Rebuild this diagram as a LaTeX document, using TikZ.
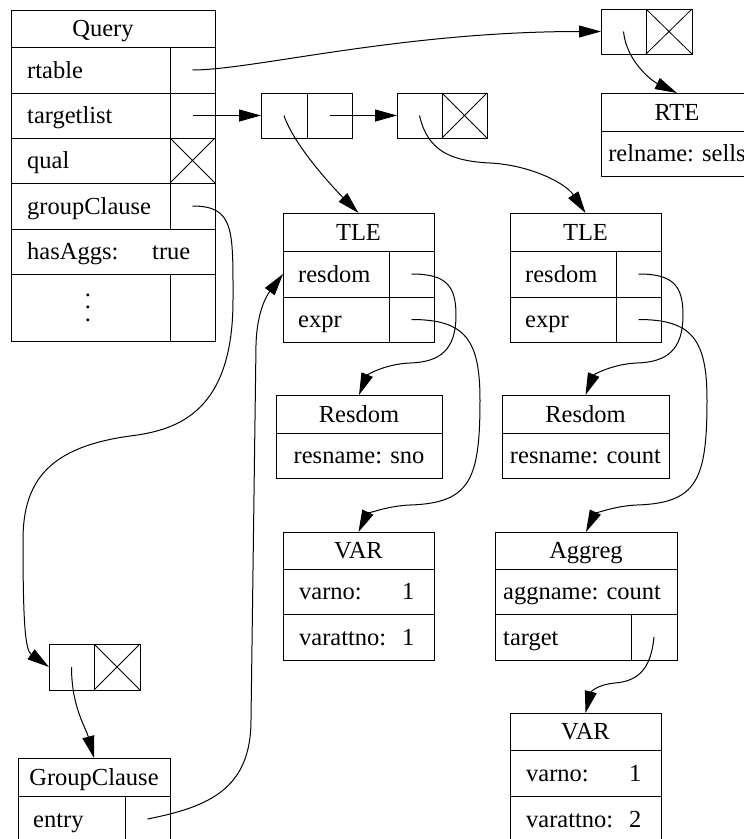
\documentclass[tikz,border=0pt]{standalone}
\usepackage{fontspec}
\setmainfont{Liberation Serif}
\usetikzlibrary{arrows.meta,calc}

\tikzset{
  box/.style={draw, line width=1pt, anchor=north west, inner sep=0pt, outer sep=0pt},
  lbl/.style={anchor=base west, inner sep=0pt},
  ttl/.style={anchor=base, inner sep=0pt},
  ptr/.style={line width=1pt, -{Triangle[length=22pt,width=12pt]}},
}
% a rectangular cell: name, left, top, width, height
\newcommand\mkbox[5]{\node[box, minimum width=#4pt, minimum height=#5pt] (#1) at (#2,#3) {};}
% crossed-out cell (NIL pointer)
\newcommand\nilmark[1]{\draw[line width=0.8pt] (#1.north west) -- (#1.south east) (#1.north east) -- (#1.south west);}
% left-aligned text in a cell: cell, node name, inset, text
\newcommand\lbltext[4]{\node[lbl] (#2) at ($(#1.west)+(#3,8)$) {#4};}
% centred text in a cell: cell, node name, text
\newcommand\ttltext[3]{\node[ttl] (#2) at ($(#1.center)+(0,8)$) {#3};}

\begin{document}
\begin{tikzpicture}[x=1pt,y=-1pt,font=\fontsize{24.5}{29}\selectfont]
\useasboundingbox (0,0) rectangle (744,839);

% ---------------- Query node ----------------
\mkbox{qh}{11}{10}{204}{37}
\node[ttl] (qh-t) at ($(qh.center)+(-10,8)$) {Query};
\mkbox{qrt}{11}{47}{159}{46}   \mkbox{qrtp}{170}{47}{45}{46}
\mkbox{qtl}{11}{93}{159}{45}   \mkbox{qtlp}{170}{93}{45}{45}
\mkbox{qq}{11}{138}{159}{45}   \mkbox{qqp}{170}{138}{45}{45}
\mkbox{qg}{11}{183}{159}{46}   \mkbox{qgp}{170}{183}{45}{46}
\mkbox{qa}{11}{229}{204}{45}
\mkbox{qd}{11}{274}{159}{67}   \mkbox{qdp}{170}{274}{45}{67}
\nilmark{qqp}
\lbltext{qrt}{qrt-t}{16}{rtable}
\lbltext{qtl}{qtl-t}{16}{targetlist}
\lbltext{qq}{qq-t}{16}{qual}
\lbltext{qg}{qg-t}{16}{groupClause}
\lbltext{qa}{qa-t}{16}{hasAggs:}
\lbltext{qa}{qa-v}{141}{true}
\node[inner sep=0pt] (qd-t) at ($(qd.center)+(-2.5,0)$)
  {\vbox{\baselineskip=12.5pt\hbox{.}\hbox{.}\hbox{.}}};

% ---------------- range table list ----------------
\mkbox{l0a}{601}{9}{45}{45}   \mkbox{l0b}{646}{9}{46}{45}
\nilmark{l0b}
\mkbox{rteh}{601}{93}{152}{38}
\mkbox{rter}{601}{131}{152}{45}
\ttltext{rteh}{rteh-t}{RTE}
\ttltext{rter}{rter-t}{relname: sells}

% ---------------- target list ----------------
\mkbox{l1a}{261}{93}{46}{45}  \mkbox{l1b}{307}{93}{45}{45}
\mkbox{l2a}{397}{93}{45}{45}  \mkbox{l2b}{442}{93}{45}{45}
\nilmark{l2b}

% TLE 1
\mkbox{t1h}{283}{213}{151}{38}
\mkbox{t1r}{283}{251}{106}{46}  \mkbox{t1rp}{389}{251}{45}{46}
\mkbox{t1e}{283}{297}{106}{45}  \mkbox{t1ep}{389}{297}{45}{45}
\ttltext{t1h}{t1h-t}{TLE}
\lbltext{t1r}{t1r-t}{15}{resdom}
\lbltext{t1e}{t1e-t}{15}{expr}

% TLE 2
\mkbox{t2h}{510}{213}{151}{38}
\mkbox{t2r}{510}{251}{106}{46}  \mkbox{t2rp}{616}{251}{45}{46}
\mkbox{t2e}{510}{297}{106}{45}  \mkbox{t2ep}{616}{297}{45}{45}
\ttltext{t2h}{t2h-t}{TLE}
\lbltext{t2r}{t2r-t}{15}{resdom}
\lbltext{t2e}{t2e-t}{15}{expr}

% Resdom nodes
\mkbox{r1h}{276}{395}{166}{38}  \mkbox{r1n}{276}{433}{166}{45}
\ttltext{r1h}{r1h-t}{Resdom}
\ttltext{r1n}{r1n-t}{resname: sno}
\mkbox{r2h}{502}{395}{167}{38}  \mkbox{r2n}{502}{433}{167}{45}
\ttltext{r2h}{r2h-t}{Resdom}
\ttltext{r2n}{r2n-t}{resname: count}

% VAR node under TLE 1
\mkbox{v1h}{283}{532}{151}{37}
\mkbox{v1a}{283}{569}{151}{45}
\mkbox{v1b}{283}{614}{151}{46}
\ttltext{v1h}{v1h-t}{VAR}
\lbltext{v1a}{v1a-t}{16}{varno:}    \lbltext{v1a}{v1a-v}{119}{1}
\lbltext{v1b}{v1b-t}{16}{varattno:} \lbltext{v1b}{v1b-v}{119}{1}

% Aggreg node under TLE 2
\mkbox{ah}{495}{532}{182}{37}
\mkbox{an}{495}{569}{182}{45}
\mkbox{at}{495}{614}{136}{46}  \mkbox{atp}{631}{614}{46}{46}
\ttltext{ah}{ah-t}{Aggreg}
\lbltext{an}{an-t}{8}{aggname: count}
\lbltext{at}{at-t}{8}{target}

% VAR node under Aggreg
\mkbox{v2h}{510}{713}{151}{37}
\mkbox{v2a}{510}{750}{151}{46}
\mkbox{v2b}{510}{796}{151}{46}
\ttltext{v2h}{v2h-t}{VAR}
\lbltext{v2a}{v2a-t}{16}{varno:}    \lbltext{v2a}{v2a-v}{119}{1}
\lbltext{v2b}{v2b-t}{16}{varattno:} \lbltext{v2b}{v2b-v}{119}{2}

% ---------------- group clause list ----------------
\mkbox{l3a}{49}{644}{45}{46}  \mkbox{l3b}{94}{644}{46}{46}
\nilmark{l3b}
\mkbox{gh}{18}{758}{152}{38}
\mkbox{ge}{18}{796}{107}{46}  \mkbox{gep}{125}{796}{45}{46}
\ttltext{gh}{gh-t}{GroupClause}
\lbltext{ge}{ge-t}{15}{entry}

% ---------------- pointers ----------------
\draw[ptr] (qrtp.center) .. controls +(60,0) and +(-200,0) .. (l0a.west);
\draw[ptr] (qtlp.center) -- (l1a.west);
\draw[ptr] (l1b.center) -- (l2a.west);
\draw[ptr] (l0a.center) .. controls +(3,30) and +(-25,-12) .. (rteh.north);
\draw[ptr] (l1a.center) .. controls +(10,30) and +(-25,-25) .. (t1h.north);
\draw[ptr] (l2a.center) .. controls +(8,35) and +(-40,-2) .. (490,163)
                        .. controls +(40,2) and +(-20,-30) .. (t2h.north);

\draw[ptr] (t1rp.center) .. controls +(34,0) and +(0,-30) .. (456,315)
                         .. controls +(0,35) and +(30,-1) .. (410,363)
                         .. controls +(-25,1) and +(8,-20) .. (r1h.north);
\draw[ptr] (t1ep.center) .. controls +(54,0) and +(0,-60) .. (480,400)
                         .. controls +(0,80) and +(60,-2) .. (410,505)
                         .. controls +(-25,1) and +(8,-17) .. (v1h.north);

\draw[ptr] (t2rp.center) .. controls +(34,0) and +(0,-30) .. (683,315)
                         .. controls +(0,35) and +(30,-1) .. (637,363)
                         .. controls +(-25,1) and +(8,-20) .. (r2h.north);
\draw[ptr] (t2ep.center) .. controls +(54,0) and +(0,-60) .. (707,400)
                         .. controls +(0,80) and +(60,-2) .. (637,505)
                         .. controls +(-25,1) and +(8,-17) .. (ah.north);

\draw[ptr] (atp.center) .. controls +(-3,30) and +(25,-2) .. (615,683)
                        .. controls +(-20,2) and +(5,-20) .. (v2h.north);

\draw[ptr] (qgp.center) .. controls +(42,0) and +(0,-70) .. (233,300)
                        .. controls +(0,110) and +(50,-6) .. (130,436)
                        .. controls +(-80,11) and +(0,-60) .. (23,540)
                        .. controls +(0,80) and +(-24,-17) .. (l3a.west);
\draw[ptr] (l3a.center) .. controls +(0,40) and +(-8,-30) .. (gh.north);

\draw[ptr] (gep.center) .. controls +(60,-12) and +(0,70) .. (251,720)
                        -- (256,345)
                        .. controls +(1,-40) and +(-12,16) .. (t1r.west);
\end{tikzpicture}
\end{document}
